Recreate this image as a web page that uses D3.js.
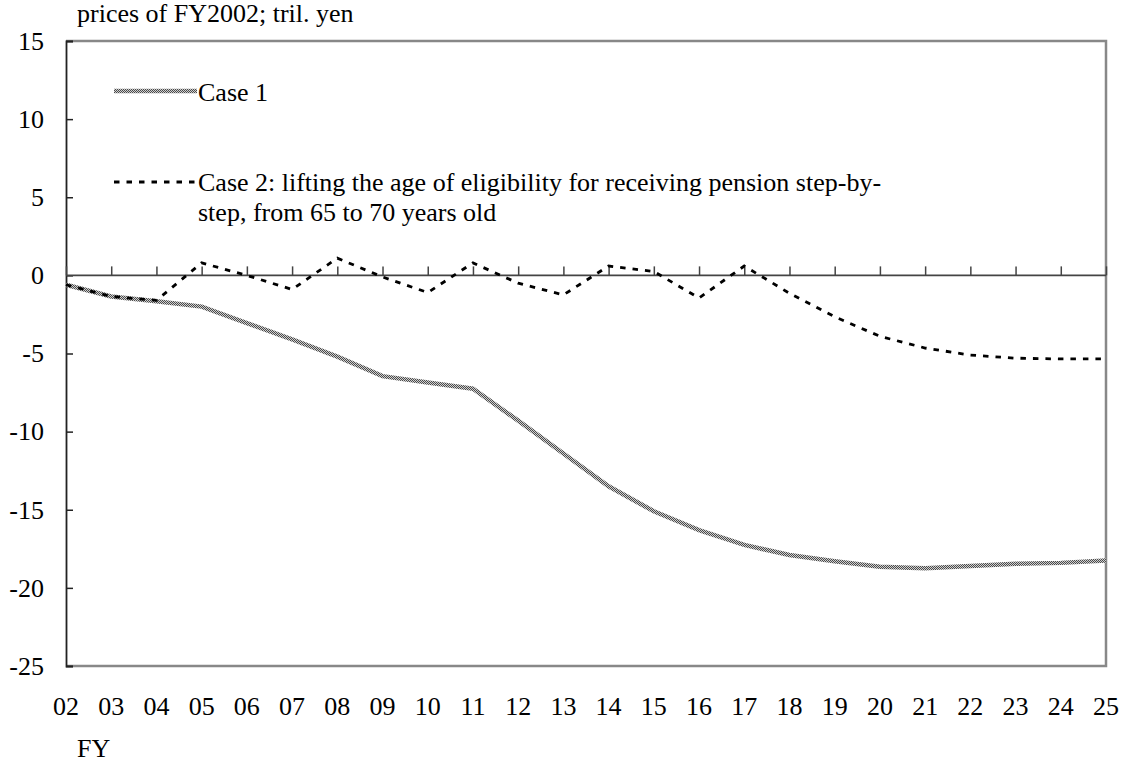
<!DOCTYPE html>
<html><head><meta charset="utf-8">
<script src="https://cdn.jsdelivr.net/npm/d3@7"></script>
<style>
html,body{margin:0;padding:0;background:#fff;}
text{font-family:"Liberation Serif","Times New Roman",serif;fill:#000;}
</style></head>
<body>
<svg id="chart" width="1125" height="763"></svg>
<script>
const years = ["02","03","04","05","06","07","08","09","10","11","12","13","14","15","16","17","18","19","20","21","22","23","24","25"];
const case1 = [-0.6,-1.35,-1.65,-2.0,-3.05,-4.1,-5.2,-6.45,-6.85,-7.25,-9.3,-11.4,-13.5,-15.1,-16.3,-17.25,-17.9,-18.3,-18.65,-18.75,-18.6,-18.45,-18.4,-18.25];
const case2 = [-0.6,-1.35,-1.6,0.8,0.0,-0.9,1.1,-0.1,-1.1,0.8,-0.5,-1.25,0.6,0.25,-1.45,0.6,-1.15,-2.65,-3.9,-4.65,-5.1,-5.3,-5.35,-5.35];
const yTicks = [15,10,5,0,-5,-10,-15,-20,-25];
const seriesNames = ["Case 1","Case 2: lifting the age of eligibility for receiving pension step-by-","step, from 65 to 70 years old"];
const yUnit = "prices of FY2002; tril. yen";
const xUnit = "FY";

const FS = 26;
const svg = d3.select("#chart");
const L = 66, R = 1106, T = 41, B = 666;
const x = d3.scalePoint().domain(years).range([L, R]);
const y = d3.scaleLinear().domain([-25, 15]).range([B, T]);

const defs = svg.append("defs");
const pat = defs.append("pattern").attr("id","checker").attr("patternUnits","userSpaceOnUse")
  .attr("width",2).attr("height",2);
pat.append("rect").attr("width",2).attr("height",2).attr("fill","#d0d0d0");
pat.append("rect").attr("width",1).attr("height",1).attr("fill","#4a4a4a");
pat.append("rect").attr("x",1).attr("y",1).attr("width",1).attr("height",1).attr("fill","#4a4a4a");

// frame (top, right, bottom) gray
svg.append("path").attr("d",`M${L},${T}H${R}V${B}H${L}`).attr("fill","none")
  .attr("stroke","#888").attr("stroke-width",2.5);

// left y axis
const yAxis = d3.axisRight(y).tickValues(yTicks).tickSize(7).tickFormat("");
const gy = svg.append("g").attr("transform",`translate(${L},0)`).call(yAxis);
gy.select(".domain").attr("stroke","#222").attr("stroke-width",1.8);
gy.selectAll(".tick line").attr("stroke","#222").attr("stroke-width",1.5);

// y labels
svg.append("g").selectAll("text").data(yTicks).join("text")
  .attr("x",44).attr("y",d=>y(d)).attr("dy","0.34em").attr("text-anchor","end")
  .attr("font-size",FS).text(d=>d);

// zero axis with upward ticks
const xAxis = d3.axisTop(x).tickSize(9).tickFormat("");
const gx = svg.append("g").attr("transform",`translate(0,${y(0)})`).call(xAxis);
gx.select(".domain").attr("stroke","#444").attr("stroke-width",1.8).attr("d",`M${L},0H${R}`);
gx.selectAll(".tick line").attr("stroke","#444").attr("stroke-width",1.5);

// x labels
svg.append("g").selectAll("text").data(years).join("text")
  .attr("x",d=>x(d)).attr("y",715).attr("text-anchor","middle")
  .attr("font-size",FS).text(d=>d);

svg.append("text").attr("x",77).attr("y",757).attr("font-size",FS).text(xUnit);
svg.append("text").attr("x",77).attr("y",22).attr("font-size",FS).text(yUnit);

const line = d3.line().x((d,i)=>x(years[i])).y(d=>y(d));

svg.append("path").datum(case1).attr("d",line).attr("fill","none")
  .attr("stroke","url(#checker)").attr("stroke-width",4.5);
svg.append("path").datum(case2).attr("d",line).attr("fill","none")
  .attr("stroke","#000").attr("stroke-width",2.8).attr("stroke-dasharray","5.5,7");

// legend
svg.append("line").attr("x1",114).attr("x2",197).attr("y1",91).attr("y2",91)
  .attr("stroke","url(#checker)").attr("stroke-width",4.5);
svg.append("text").attr("x",198).attr("y",101).attr("font-size",FS).text(seriesNames[0]);
svg.append("line").attr("x1",114).attr("x2",196).attr("y1",182).attr("y2",182)
  .attr("stroke","#000").attr("stroke-width",2.8).attr("stroke-dasharray","5.5,7");
svg.append("text").attr("x",198).attr("y",191).attr("font-size",FS).text(seriesNames[1]);
svg.append("text").attr("x",198).attr("y",221).attr("font-size",FS).text(seriesNames[2]);
</script>
</body></html>
